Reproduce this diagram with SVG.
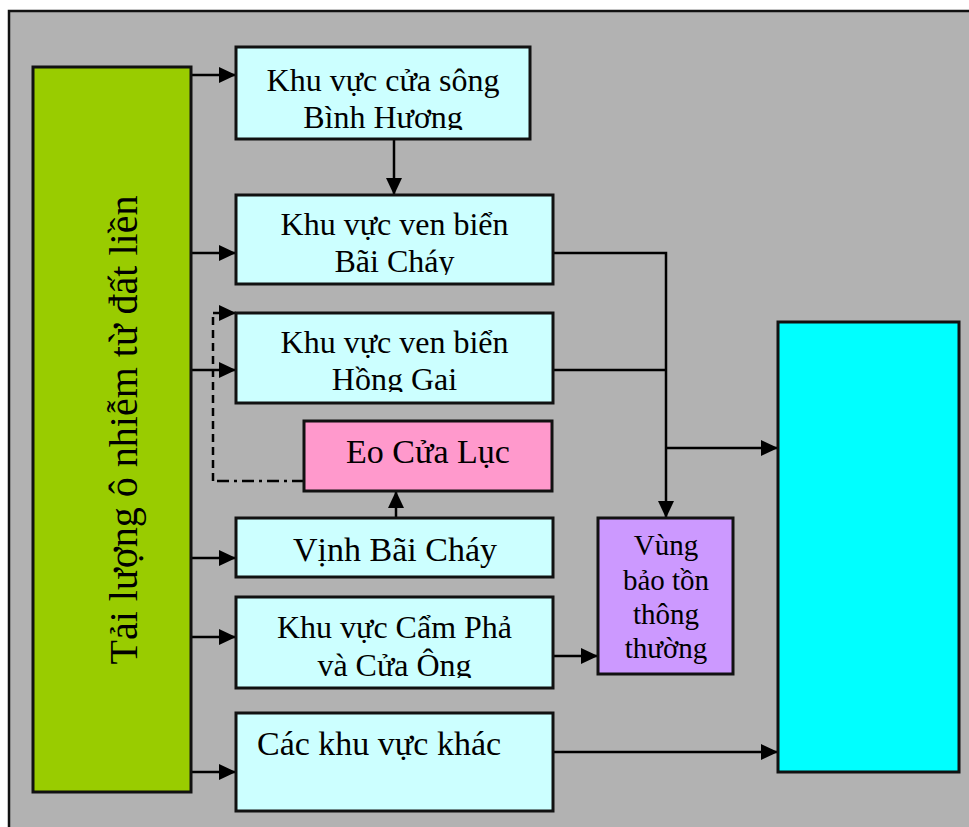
<svg xmlns="http://www.w3.org/2000/svg" width="969" height="827" viewBox="0 0 969 827">
  <style>
    text { font-family: "Liberation Serif", "Times New Roman", serif; fill: #000; }
    .box { stroke: #111; stroke-width: 3; }
    .zone { fill: #ccffff; }
    .t32 { font-size: 32px; text-anchor: middle; }
    .t34 { font-size: 34px; text-anchor: middle; }
    .t29 { font-size: 29px; text-anchor: middle; }
    .link { fill: none; stroke: #000; stroke-width: 2.5; }
    .dash-h { fill: none; stroke: #000; stroke-width: 2.5; stroke-dasharray: 12 5 3 5; }
    .dash-v { fill: none; stroke: #000; stroke-width: 2.5; stroke-dasharray: 8 5; }
  </style>
  <defs>
    <marker id="arrow" markerUnits="userSpaceOnUse" markerWidth="18" markerHeight="18" refX="17" refY="8" orient="auto">
      <path d="M0,0 L17,8 L0,16 z" fill="#000"/>
    </marker>
    <!-- second text lines are cut just under the baseline -->
    <clipPath id="clip-binhhuong"><rect x="236" y="40" width="294" height="90"/></clipPath>
    <clipPath id="clip-baichay"><rect x="236" y="190" width="317" height="85"/></clipPath>
    <clipPath id="clip-honggai"><rect x="236" y="308" width="317" height="84"/></clipPath>
    <clipPath id="clip-campha"><rect x="236" y="592" width="317" height="86"/></clipPath>
  </defs>

  <!-- page background and frame -->
  <rect x="0" y="0" width="969" height="827" fill="#ffffff"/>
  <rect x="9" y="11" width="1000" height="900" fill="#b2b2b2" stroke="#111" stroke-width="2.5"/>

  <!-- connectors -->
  <g id="connectors">
    <path class="link" d="M191,75 H236" marker-end="url(#arrow)"/>
    <path class="link" d="M191,253 H236" marker-end="url(#arrow)"/>
    <path class="link" d="M191,370 H236" marker-end="url(#arrow)"/>
    <path class="link" d="M191,558 H236" marker-end="url(#arrow)"/>
    <path class="link" d="M191,637 H236" marker-end="url(#arrow)"/>
    <path class="link" d="M191,772 H236" marker-end="url(#arrow)"/>
    <path class="link" d="M394,139 V195" marker-end="url(#arrow)"/>
    <path class="link" d="M396,518 V491" marker-end="url(#arrow)"/>
    <path class="dash-h" d="M304,481 H213"/>
    <path class="dash-v" d="M213,481 V313"/>
    <path class="link" d="M213,313 H236" marker-end="url(#arrow)"/>
    <path class="link" d="M553,253 H666 V518" marker-end="url(#arrow)"/>
    <path class="link" d="M553,370 H666"/>
    <path class="link" d="M666,448 H778" marker-end="url(#arrow)"/>
    <path class="link" d="M553,656 H598" marker-end="url(#arrow)"/>
    <path class="link" d="M553,752 H778" marker-end="url(#arrow)"/>
  </g>

  <g id="land-load">
    <rect class="box" x="33" y="67" width="158" height="725" fill="#99cc00"/>
    <text transform="translate(137,430) rotate(-90)" style="font-size:40px;text-anchor:middle">Tải lượng ô nhiễm từ đất liền</text>
  </g>

  <g id="binh-huong">
    <rect class="box zone" x="236" y="47" width="294" height="92"/>
    <g clip-path="url(#clip-binhhuong)">
      <text class="t32" x="383" y="91">Khu vực cửa sông</text>
      <text class="t32" x="383" y="128">Bình Hương</text>
    </g>
  </g>

  <g id="bai-chay-coast">
    <rect class="box zone" x="236" y="195" width="317" height="89"/>
    <g clip-path="url(#clip-baichay)">
      <text class="t32" x="394.5" y="235">Khu vực ven biển</text>
      <text class="t32" x="394.5" y="272">Bãi Cháy</text>
    </g>
  </g>

  <g id="hong-gai-coast">
    <rect class="box zone" x="236" y="313" width="317" height="90"/>
    <g clip-path="url(#clip-honggai)">
      <text class="t32" x="394.5" y="353">Khu vực ven biển</text>
      <text class="t32" x="394.5" y="390">Hồng Gai</text>
    </g>
  </g>

  <g id="eo-cua-luc">
    <rect class="box" x="304" y="421" width="248" height="70" fill="#ff99cc"/>
    <text class="t34" x="428" y="463">Eo Cửa Lục</text>
  </g>

  <g id="vinh-bai-chay">
    <rect class="box zone" x="236" y="518" width="317" height="59"/>
    <text class="t34" x="395" y="561">Vịnh Bãi Cháy</text>
  </g>

  <g id="cam-pha">
    <rect class="box zone" x="236" y="597" width="317" height="91"/>
    <g clip-path="url(#clip-campha)">
      <text class="t32" x="394.5" y="638">Khu vực Cẩm Phả</text>
      <text class="t32" x="394.5" y="676">và Cửa Ông</text>
    </g>
  </g>

  <g id="other-areas">
    <rect class="box zone" x="236" y="713" width="317" height="98"/>
    <text x="257" y="755" style="font-size:34px">Các khu vực khác</text>
  </g>

  <g id="conservation">
    <rect class="box" x="598" y="518" width="135" height="156" fill="#cc99ff"/>
    <text class="t29" x="666" y="555">Vùng</text>
    <text class="t29" x="666" y="590">bảo tồn</text>
    <text class="t29" x="666" y="624">thông</text>
    <text class="t29" x="666" y="658">thường</text>
  </g>

  <g id="receiving-area">
    <rect class="box" x="778" y="322" width="181" height="450" fill="#00ffff"/>
  </g>
</svg>
